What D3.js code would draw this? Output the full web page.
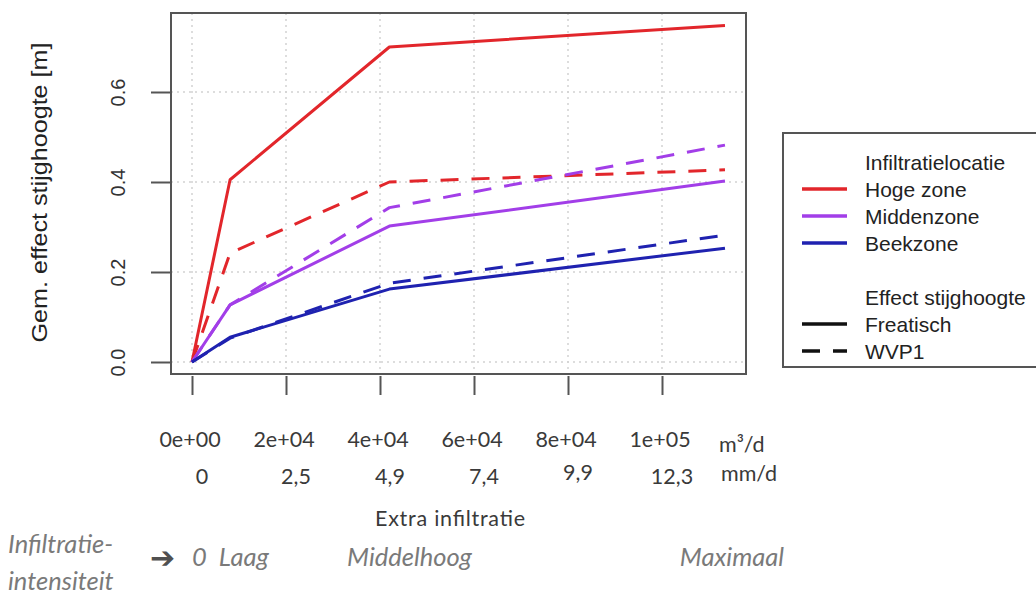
<!DOCTYPE html>
<html>
<head>
<meta charset="utf-8">
<script src="https://cdn.jsdelivr.net/npm/d3@7"></script>
<style>
    body { margin: 0; background: #fff; }
    .tick-label { font-family: "Liberation Sans", Arial, sans-serif; font-size: 20px; fill: #333; }
    .axis-label { font-family: "Liberation Sans", Arial, sans-serif; font-size: 22px; fill: #222; }
    .legend-text { font-family: "Liberation Sans", Arial, sans-serif; font-size: 21px; fill: #222; }
    .note { font-family: Lato, "Open Sans", sans-serif; font-size: 21.5px; fill: #3a3a3a; }
    .note-italic { font-family: Lato, "Open Sans", sans-serif; font-size: 25.5px; font-style: italic; fill: #7a7a7a; }
</style>
</head>
<body>
<div id="chart"></div>
<script>
/*********************/
/*** INIT VARIABLE ***/
/*********************/

// extra infiltration [m3/d] at which the effect was computed
let x_vals = [0, 8100, 42000, 113400];

// mean effect on hydraulic head [m]
let hoge_freatisch   = [0, 0.405, 0.700, 0.748];
let hoge_wvp1        = [0, 0.242, 0.400, 0.427];
let midden_freatisch = [0, 0.127, 0.302, 0.402];
let midden_wvp1      = [0, 0.127, 0.343, 0.482];
let beek_freatisch   = [0, 0.055, 0.162, 0.253];
let beek_wvp1        = [0, 0.053, 0.175, 0.282];

let zones   = ["Hoge zone", "Middenzone", "Beekzone"];
let effects = ["Freatisch", "WVP1"];

let y_ticks = [0, 0.2, 0.4, 0.6];
let x_ticks = [0, 2e4, 4e4, 6e4, 8e4, 1e5];
let x_tick_labels  = ["0e+00", "2e+04", "4e+04", "6e+04", "8e+04", "1e+05"];
let mm_tick_labels = ["0", "2,5", "4,9", "7,4", "9,9", "12,3"];
let intensity_labels = ["0  Laag", "Middelhoog", "Maximaal"];
let intensity_at     = [0, 33000, 103800];

let zone_color = {"Hoge zone": "#e2262b", "Middenzone": "#a23ee8", "Beekzone": "#1f22b0"};
let dash = {"Freatisch": null, "WVP1": "18,13"};

let svg = d3.select("#chart").append("svg")
    .attr("width", 1036)
    .attr("height", 594);

// plot box (R style, 4% padding around the data)
let box = {left: 171, right: 746, top: 13, bottom: 374};

let x = d3.scaleLinear().domain([0, 1e5]).range([192, 662]),
    y = d3.scaleLinear().domain([0, 0.6]).range([362, 92]);

let series = [
    {zone: "Hoge zone",  effect: "Freatisch", values: hoge_freatisch},
    {zone: "Hoge zone",  effect: "WVP1",      values: hoge_wvp1},
    {zone: "Middenzone", effect: "Freatisch", values: midden_freatisch},
    {zone: "Middenzone", effect: "WVP1",      values: midden_wvp1},
    {zone: "Beekzone",   effect: "Freatisch", values: beek_freatisch},
    {zone: "Beekzone",   effect: "WVP1",      values: beek_wvp1}
];

/********************************/
/*** DECLARE HELPER FUNCTIONS ***/
/********************************/

function render_grid() {
    let g = svg.append("g").attr("id", "grid");

    g.selectAll("line.vgrid")
        .data(x_ticks).enter()
        .append("line")
        .attr("x1", (d) => x(d)).attr("x2", (d) => x(d))
        .attr("y1", box.top).attr("y2", box.bottom)
        .attr("stroke", "#d2d2d2").attr("stroke-width", 1.5)
        .attr("stroke-dasharray", "2,4");

    g.selectAll("line.hgrid")
        .data(y_ticks).enter()
        .append("line")
        .attr("x1", box.left).attr("x2", box.right)
        .attr("y1", (d) => y(d)).attr("y2", (d) => y(d))
        .attr("stroke", "#d2d2d2").attr("stroke-width", 1.5)
        .attr("stroke-dasharray", "2,4");
}

function render_axis() {
    // y axis, labels rotated like R's default
    let ya = svg.append("g")
        .attr("id", "y-axis")
        .attr("transform", `translate(${box.left}, 0)`)
        .call(d3.axisLeft(y).tickValues(y_ticks).tickSize(20).tickFormat(d3.format(".1f")));
    ya.select(".domain").remove();
    ya.selectAll(".tick line").attr("stroke", "#555").attr("stroke-width", 2);
    ya.selectAll(".tick text")
        .attr("class", "tick-label")
        .attr("x", null).attr("dy", null)
        .attr("text-anchor", "middle")
        .attr("font-size", null).attr("font-family", null).attr("fill", null)
        .attr("transform", `translate(${125 - box.left}, 0) rotate(-90)`);

    // x axis, labels are written below as plain text
    let xa = svg.append("g")
        .attr("id", "x-axis")
        .attr("transform", `translate(0, ${box.bottom + 2})`)
        .call(d3.axisBottom(x).tickValues(x_ticks).tickSize(19).tickFormat(""));
    xa.select(".domain").remove();
    xa.selectAll(".tick line").attr("stroke", "#555").attr("stroke-width", 2);

    svg.append("rect")
        .attr("x", box.left).attr("y", box.top)
        .attr("width", box.right - box.left).attr("height", box.bottom - box.top)
        .attr("fill", "none").attr("stroke", "#555").attr("stroke-width", 2);

    svg.append("text")
        .attr("class", "axis-label")
        .attr("transform", `translate(47, ${(42 + 343) / 2}) rotate(-90)`)
        .attr("text-anchor", "middle")
        .attr("textLength", 300)
        .attr("lengthAdjust", "spacingAndGlyphs")
        .text("Gem. effect stijghoogte [m]");
}

function render_lines() {
    let line = d3.line()
        .x((d, i) => x(x_vals[i]))
        .y((d) => y(d));

    svg.append("g").attr("id", "lines")
        .selectAll("path")
        .data(series).enter()
        .append("path")
        .attr("d", (d) => line(d.values))
        .attr("fill", "none")
        .attr("stroke", (d) => zone_color[d.zone])
        .attr("stroke-width", 3)
        .attr("stroke-linejoin", "round")
        .attr("stroke-dasharray", (d) => dash[d.effect]);
}

function render_legend() {
    let lg = svg.append("g").attr("id", "legend");
    let row = 27, base = 170, tx = 865;

    lg.append("rect")
        .attr("x", 783).attr("y", 133)
        .attr("width", 270).attr("height", 234)
        .attr("fill", "#fff").attr("stroke", "#555").attr("stroke-width", 2);

    let items = [{label: "Infiltratielocatie"}]
        .concat(zones.map((z) => ({label: z, color: zone_color[z]})))
        .concat([{label: ""}, {label: "Effect stijghoogte"}])
        .concat(effects.map((e) => ({label: e, color: "#111", dash: dash[e]})));

    items.forEach((d, i) => {
        let by = base + i * row;
        if (d.color) {
            lg.append("line")
                .attr("x1", 802).attr("x2", 847)
                .attr("y1", by - 8).attr("y2", by - 8)
                .attr("stroke", d.color).attr("stroke-width", 3.5)
                .attr("stroke-dasharray", d.dash || null);
        }
        lg.append("text")
            .attr("class", "legend-text")
            .attr("x", tx).attr("y", by)
            .text(d.label);
    });
}

function render_notes() {
    // m3/d row
    svg.selectAll("text.m3")
        .data(x_tick_labels).enter()
        .append("text")
        .attr("class", "note m3")
        .attr("x", (d, i) => x(x_ticks[i]) - 2)
        .attr("y", 447)
        .attr("text-anchor", "middle")
        .text((d) => d);

    svg.append("text").attr("class", "note")
        .attr("x", 719).attr("y", 452).text("m³/d");

    // mm/d row
    svg.selectAll("text.mm")
        .data(mm_tick_labels).enter()
        .append("text")
        .attr("class", "note mm")
        .attr("x", (d, i) => x(x_ticks[i]) + 10)
        .attr("y", (d, i) => i === 4 ? 480 : 484)
        .attr("text-anchor", "middle")
        .text((d) => d);

    svg.append("text").attr("class", "note")
        .attr("x", 721).attr("y", 481).text("mm/d");

    svg.append("text").attr("class", "note")
        .attr("x", 450).attr("y", 526)
        .attr("text-anchor", "middle")
        .attr("textLength", 150)
        .text("Extra infiltratie");

    // intensity scale
    svg.append("text").attr("class", "note-italic")
        .attr("x", 8).attr("y", 553).text("Infiltratie-");
    svg.append("text").attr("class", "note-italic")
        .attr("x", 8).attr("y", 590).text("intensiteit");

    svg.append("text")
        .attr("x", 150).attr("y", 568)
        .attr("font-family", "DejaVu Sans")
        .attr("font-size", 30)
        .attr("font-weight", "bold")
        .attr("fill", "#505050")
        .text("➔");

    svg.selectAll("text.intensity")
        .data(intensity_labels).enter()
        .append("text")
        .attr("class", "note-italic intensity")
        .attr("x", (d, i) => x(intensity_at[i]))
        .attr("y", 566)
        .attr("xml:space", "preserve")
        .style("white-space", "pre")
        .text((d) => d);
}

/*********************/
/*** DRAW THE PLOT ***/
/*********************/

render_grid();
render_lines();
render_axis();
render_legend();
render_notes();
</script>
</body>
</html>
